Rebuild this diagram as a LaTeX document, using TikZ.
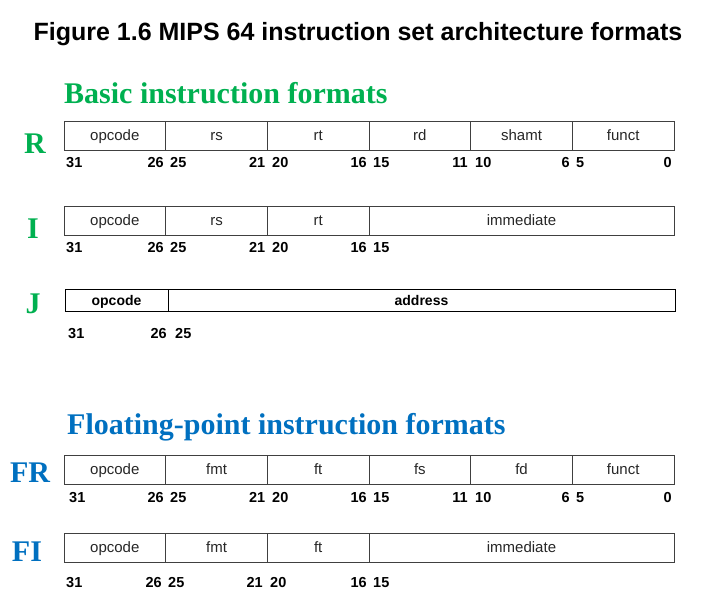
\documentclass[tikz,border=0pt]{standalone}
\usepackage{fontspec}
\setmainfont{Liberation Sans}
\newfontfamily\serifbold{Liberation Serif}[BoldFont={* Bold}]
\definecolor{basicgreen}{HTML}{00B050}
\definecolor{fpblue}{HTML}{0070C0}
\definecolor{fieldgray}{HTML}{404040}
\definecolor{textgray}{HTML}{262626}
\begin{document}
\begin{tikzpicture}[x=1pt,y=-1pt,
  field/.style={draw=fieldgray, line width=1pt, minimum height=29pt, inner sep=0pt, outer sep=0pt,
     text height=12pt, text depth=2pt,
     anchor=west, font=\fontsize{15}{15}\selectfont, text=textgray},
  jfield/.style={draw=black, line width=1pt, minimum height=22pt, inner sep=0pt, outer sep=0pt,
     text height=11pt, text depth=1pt,
     anchor=west, font=\fontsize{14}{14}\selectfont\bfseries, text=black},
  bitnum/.style={font=\fontsize{14.5}{14.5}\selectfont\bfseries, inner sep=0pt},
  rowlabel/.style={font=\fontsize{30}{30}\selectfont\serifbold\bfseries, inner sep=0pt, anchor=base},
  heading/.style={font=\fontsize{30}{30}\selectfont\serifbold\bfseries, inner sep=0pt, anchor=base west},
]
\useasboundingbox (0,0) rectangle (718,616);
\def\w{101.67}

% Title
\node[font=\fontsize{25}{25}\selectfont\bfseries, inner sep=0pt, anchor=base] (title) at (358,40)
  {Figure 1.6 MIPS 64 instruction set architecture formats};

% Basic heading
\node[heading, text=basicgreen] (basic) at (64,103) {Basic instruction formats};

% R row
\node[rowlabel, text=basicgreen] (Rlab) at (35,153) {R};
\node[field, minimum width=\w pt] (R1) at (64,135.5) {opcode};
\node[field, minimum width=\w pt] (R2) at (R1.east) {rs};
\node[field, minimum width=\w pt] (R3) at (R2.east) {rt};
\node[field, minimum width=\w pt] (R4) at (R3.east) {rd};
\node[field, minimum width=\w pt] (R5) at (R4.east) {shamt};
\node[field, minimum width=\w pt] (R6) at (R5.east) {funct};
\foreach \n/\x/\t in {a/66/31, c/170/25, e/272/20, g/373/15, i/475/10, k/576/5}
  \node[bitnum, anchor=base west] (Rn\n) at (\x,167) {\t};
\foreach \n/\x/\t in {b/164/26, d/265.5/21, f/367/16, h/468/11, j/570/6, l/672/0}
  \node[bitnum, anchor=base east] (Rn\n) at (\x,167) {\t};

% I row
\node[rowlabel, text=basicgreen] (Ilab) at (33,238) {I};
\node[field, minimum width=\w pt] (I1) at (64,220.5) {opcode};
\node[field, minimum width=\w pt] (I2) at (I1.east) {rs};
\node[field, minimum width=\w pt] (I3) at (I2.east) {rt};
\node[field, minimum width=305pt] (I4) at (I3.east) {immediate};
\foreach \n/\x/\t in {a/66/31, c/170/25, e/272/20, g/373/15}
  \node[bitnum, anchor=base west] (In\n) at (\x,252) {\t};
\foreach \n/\x/\t in {b/164/26, d/265.5/21, f/367/16}
  \node[bitnum, anchor=base east] (In\n) at (\x,252) {\t};

% J row
\node[rowlabel, text=basicgreen] (Jlab) at (33,313) {J};
\node[jfield, minimum width=103pt] (J1) at (65,300) {opcode};
\node[jfield, minimum width=507pt] (J2) at (J1.east) {address};
\node[bitnum, anchor=base west] (Jna) at (68,338) {31};
\node[bitnum, anchor=base east] (Jnb) at (167,338) {26};
\node[bitnum, anchor=base west] (Jnc) at (175,338) {25};

% Floating heading
\node[heading, text=fpblue] (fp) at (67,434) {Floating-point instruction formats};

% FR row
\node[rowlabel, text=fpblue] (FRlab) at (30,482) {FR};
\node[field, minimum width=\w pt] (FR1) at (64,469.5) {opcode};
\node[field, minimum width=\w pt] (FR2) at (FR1.east) {fmt};
\node[field, minimum width=\w pt] (FR3) at (FR2.east) {ft};
\node[field, minimum width=\w pt] (FR4) at (FR3.east) {fs};
\node[field, minimum width=\w pt] (FR5) at (FR4.east) {fd};
\node[field, minimum width=\w pt] (FR6) at (FR5.east) {funct};
\foreach \n/\x/\t in {a/69/31, c/170/25, e/272/20, g/373/15, i/475/10, k/576/5}
  \node[bitnum, anchor=base west] (FRn\n) at (\x,502) {\t};
\foreach \n/\x/\t in {b/164/26, d/265.5/21, f/367/16, h/468/11, j/570/6, l/672/0}
  \node[bitnum, anchor=base east] (FRn\n) at (\x,502) {\t};

% FI row
\node[rowlabel, text=fpblue] (FIlab) at (27,561) {FI};
\node[field, minimum width=\w pt] (FI1) at (64,547.5) {opcode};
\node[field, minimum width=\w pt] (FI2) at (FI1.east) {fmt};
\node[field, minimum width=\w pt] (FI3) at (FI2.east) {ft};
\node[field, minimum width=305pt] (FI4) at (FI3.east) {immediate};
\foreach \n/\x/\t in {a/66/31, c/168/25, e/270/20, g/373/15}
  \node[bitnum, anchor=base west] (FIn\n) at (\x,587) {\t};
\foreach \n/\x/\t in {b/162/26, d/263/21, f/367/16}
  \node[bitnum, anchor=base east] (FIn\n) at (\x,587) {\t};
\end{tikzpicture}
\end{document}
